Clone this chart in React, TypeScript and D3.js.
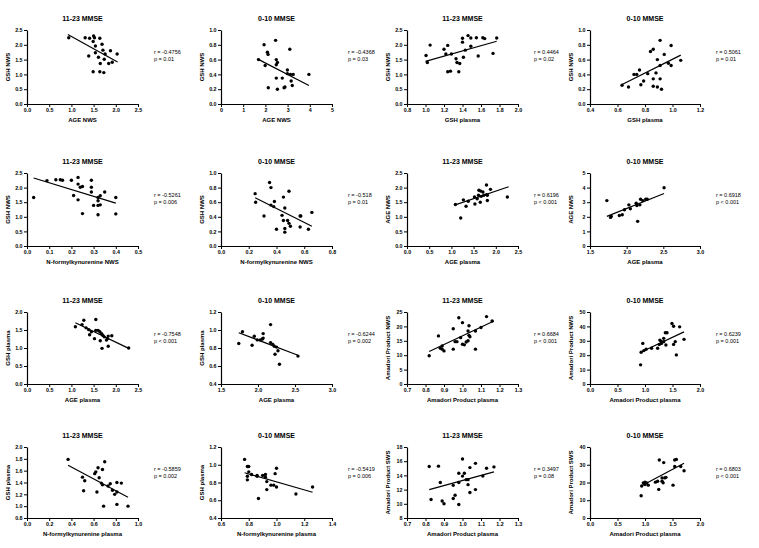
import React, { useEffect, useRef } from "react";
import * as d3 from "d3";

type Pt = [number, number];

// ---------- data ----------
const ageNws_gshNws_mild: Pt[] = [
  [0.94, 2.24], [1.31, 2.24], [1.41, 2.22], [1.5, 2.3], [1.52, 2.24], [1.49, 2.11], [1.64, 2.22],
  [1.54, 1.96], [1.69, 2.02], [1.71, 1.82], [1.54, 1.73], [1.39, 1.62], [1.61, 1.58], [1.76, 1.69],
  [1.88, 1.8], [2.03, 1.69], [1.74, 1.51], [1.65, 1.37], [1.84, 1.37], [1.92, 1.41], [1.49, 1.09],
  [1.64, 1.09], [1.73, 1.06],
];
const ageNws_gshNws_severe: Pt[] = [
  [1.69, 0.6], [1.94, 0.8], [1.99, 0.52], [2.09, 0.7], [2.12, 0.67], [2.46, 0.86], [2.49, 0.6],
  [2.54, 0.56], [2.49, 0.53], [3.1, 0.74], [2.99, 0.46], [2.99, 0.41], [3.13, 0.4], [3.25, 0.4],
  [3.96, 0.4], [2.49, 0.35], [2.76, 0.35], [3.16, 0.31], [3.21, 0.25], [2.13, 0.22], [2.54, 0.2],
  [2.88, 0.23], [2.84, 0.22],
];
const gshPl_gshNws_mild: Pt[] = [
  [1.006, 1.64], [1.02, 1.4], [1.05, 1.99], [1.2, 1.85], [1.22, 1.69], [1.24, 1.98], [1.28, 1.69],
  [1.24, 1.09], [1.27, 1.11], [1.33, 1.53], [1.34, 1.4], [1.37, 1.37], [1.36, 1.09], [1.4, 2.22],
  [1.4, 2.09], [1.41, 1.58], [1.43, 1.82], [1.46, 2.31], [1.49, 2.23], [1.49, 1.95], [1.55, 2.24],
  [1.57, 1.62], [1.62, 2.24], [1.64, 2.21], [1.73, 1.71], [1.77, 2.23],
];
const gshPl_gshNws_severe: Pt[] = [
  [0.633, 0.254], [0.68, 0.23], [0.72, 0.4], [0.74, 0.4], [0.76, 0.46], [0.77, 0.26], [0.79, 0.31],
  [0.82, 0.41], [0.84, 0.71], [0.86, 0.74], [0.86, 0.34], [0.86, 0.24], [0.88, 0.42], [0.89, 0.6],
  [0.89, 0.23], [0.91, 0.52], [0.91, 0.34], [0.91, 0.86], [0.92, 0.2], [0.94, 0.67], [0.97, 0.55],
  [0.99, 0.79], [0.99, 0.52], [1.06, 0.59],
];
const nfkNws_gshNws_mild: Pt[] = [
  [0.03, 1.66], [0.09, 2.24], [0.13, 2.27], [0.15, 2.27], [0.16, 2.25], [0.2, 2.25], [0.23, 2.35],
  [0.23, 2.12], [0.24, 2.01], [0.25, 2.04], [0.21, 1.73], [0.23, 1.58], [0.29, 2.25], [0.29, 2.01],
  [0.29, 1.85], [0.25, 1.11], [0.3, 1.39], [0.32, 1.66], [0.33, 1.72], [0.35, 1.85], [0.32, 1.55],
  [0.32, 1.39], [0.33, 1.41], [0.32, 1.07], [0.4, 1.66], [0.4, 1.1],
];
const nfkNws_gshNws_severe: Pt[] = [
  [0.246, 0.717], [0.25, 0.6], [0.31, 0.41], [0.35, 0.87], [0.36, 0.8], [0.36, 0.56], [0.38, 0.54],
  [0.385, 0.61], [0.4, 0.23], [0.44, 0.42], [0.45, 0.67], [0.45, 0.35], [0.46, 0.52], [0.46, 0.24],
  [0.46, 0.19], [0.48, 0.35], [0.49, 0.75], [0.49, 0.31], [0.5, 0.27], [0.57, 0.41], [0.575, 0.41],
  [0.57, 0.26], [0.63, 0.23], [0.655, 0.46],
];
const agePl_ageNws_mild: Pt[] = [
  [1.09, 1.42], [1.21, 0.96], [1.27, 1.58], [1.33, 1.36], [1.38, 1.53], [1.52, 1.68], [1.53, 1.44],
  [1.58, 1.62], [1.61, 1.74], [1.62, 1.91], [1.66, 1.88], [1.67, 1.7], [1.71, 1.85], [1.65, 1.5],
  [1.73, 1.74], [1.79, 1.76], [1.81, 1.74], [1.79, 2.09], [1.81, 1.56], [1.88, 1.94], [2.26, 1.68],
];
const agePl_ageNws_severe: Pt[] = [
  [1.73, 3.11], [1.78, 1.96], [1.79, 2.03], [1.9, 2.09], [1.94, 2.14], [1.97, 2.48], [2.03, 2.82],
  [2.05, 2.55], [2.13, 2.93], [2.14, 2.77], [2.15, 1.69], [2.18, 2.82], [2.19, 3.2], [2.22, 3.11],
  [2.26, 3.2], [2.28, 3.2], [2.51, 3.99],
];
const agePl_gshPl_mild: Pt[] = [
  [1.09, 1.59], [1.24, 1.65], [1.28, 1.77], [1.33, 1.56], [1.39, 1.51], [1.41, 1.37], [1.45, 1.45],
  [1.55, 1.49], [1.55, 1.79], [1.52, 1.26], [1.6, 1.49], [1.64, 1.45], [1.68, 1.4], [1.65, 1.2],
  [1.69, 0.99], [1.71, 1.35], [1.74, 1.31], [1.81, 1.26], [1.83, 1.33], [1.79, 1.22], [1.83, 1.05],
  [1.91, 1.34], [2.29, 1.0],
];
const agePl_gshPl_severe: Pt[] = [
  [1.74, 0.85], [1.79, 0.98], [1.92, 0.83], [1.95, 0.93], [1.99, 0.89], [2.03, 0.89], [2.06, 0.9],
  [2.07, 0.96], [2.07, 0.91], [2.17, 1.06], [2.17, 0.86], [2.2, 0.84], [2.22, 0.82], [2.23, 0.73],
  [2.25, 0.81], [2.27, 0.77], [2.29, 0.62], [2.54, 0.71],
];
const amPl_amNws_mild: Pt[] = [
  [0.82, 9.8], [0.87, 16.7], [0.88, 12.4], [0.89, 13.2], [0.9, 11.5], [0.89, 12.1], [0.95, 19.2],
  [0.95, 12.1], [0.96, 14.7], [0.97, 14.7], [0.98, 23.0], [0.99, 16.1], [1.0, 21.3], [1.0, 13.8],
  [1.01, 13.6], [1.02, 14.6], [1.03, 15.0], [1.035, 20.2], [1.03, 18.4], [1.035, 16.9], [1.04, 16.4],
  [1.07, 18.4], [1.07, 12.1], [1.1, 19.6], [1.13, 23.4], [1.16, 21.9],
];
const amPl_amNws_severe: Pt[] = [
  [0.92, 13.3], [0.93, 22.0], [0.96, 28.2], [0.98, 23.2], [1.02, 24.1], [1.12, 24.8], [1.23, 24.8],
  [1.26, 27.5], [1.27, 30.5], [1.3, 28.2], [1.34, 31.7], [1.37, 35.6], [1.4, 35.6], [1.34, 29.4],
  [1.38, 27.1], [1.49, 42.0], [1.52, 40.1], [1.52, 27.5], [1.55, 29.4], [1.57, 20.2], [1.63, 39.7],
  [1.71, 31.0], [1.29, 29.8],
];
const nfkPl_gshPl_mild: Pt[] = [
  [0.37, 1.79], [0.5, 1.49], [0.52, 1.43], [0.51, 1.26], [0.61, 1.55], [0.62, 1.58], [0.64, 1.65],
  [0.63, 1.24], [0.65, 1.48], [0.68, 1.62], [0.7, 1.75], [0.67, 1.39], [0.68, 1.36], [0.69, 1.0],
  [0.73, 1.34], [0.75, 1.38], [0.77, 1.27], [0.79, 1.2], [0.81, 1.24], [0.81, 1.4], [0.81, 1.03],
  [0.85, 1.39], [0.91, 1.0],
];
const nfkPl_gshPl_severe: Pt[] = [
  [0.77, 1.06], [0.79, 0.98], [0.8, 0.98], [0.79, 0.87], [0.79, 0.83], [0.8, 0.92], [0.82, 0.89],
  [0.86, 0.88], [0.87, 0.62], [0.9, 0.88], [0.92, 0.86], [0.93, 0.81], [0.93, 0.72], [0.92, 0.89],
  [0.96, 0.77], [0.98, 0.77], [0.99, 0.9], [1.0, 0.96], [1.0, 0.75], [1.14, 0.67], [1.26, 0.75],
  [0.86, 0.87],
];
const amPl_amSws_mild: Pt[] = [
  [0.82, 15.25], [0.83, 10.6], [0.87, 15.3], [0.88, 13.0], [0.89, 10.4], [0.9, 10.0], [0.95, 12.6],
  [0.96, 11.2], [0.95, 10.75], [0.98, 14.3], [0.98, 13.0], [0.98, 9.9], [1.0, 13.9], [1.0, 16.3],
  [1.01, 14.3], [1.02, 13.4], [1.03, 13.4], [1.03, 12.7], [1.04, 11.6], [1.04, 15.1], [1.07, 15.7],
  [1.07, 12.0], [1.11, 13.9], [1.13, 15.0], [1.17, 15.2],
];
const amPl_amSws_severe: Pt[] = [
  [0.93, 12.5], [0.94, 18.0], [0.97, 19.8], [1.0, 20.2], [1.03, 19.8], [1.06, 18.5], [1.0, 18.9],
  [1.19, 20.2], [1.23, 20.7], [1.26, 32.7], [1.25, 16.1], [1.31, 20.7], [1.31, 22.6], [1.34, 31.2],
  [1.33, 19.8], [1.36, 22.6], [1.38, 22.9], [1.51, 18.5], [1.54, 29.0], [1.54, 32.7], [1.57, 33.0],
  [1.65, 29.0], [1.71, 26.6],
];

// regression line end points [x1, y1, x2, y2] in data units
const fitLines: number[][] = [
  [0.92, 2.35, 2.04, 1.42], [1.64, 0.61, 3.96, 0.25], [1.0, 1.44, 1.77, 2.12], [0.63, 0.26, 1.06, 0.66],
  [0.03, 2.33, 0.4, 1.47], [0.246, 0.66, 0.655, 0.27], [1.07, 1.4, 2.29, 2.03], [1.73, 2.03, 2.51, 3.6],
  [1.09, 1.7, 2.29, 0.99], [1.74, 0.97, 2.54, 0.72], [0.82, 11.3, 1.17, 21.9], [0.92, 22.0, 1.71, 36.2],
  [0.37, 1.69, 0.91, 1.15], [0.77, 0.91, 1.26, 0.69], [0.82, 12.0, 1.17, 14.5], [0.93, 18.0, 1.71, 30.8],
];

const panelTitles = ["11-23 MMSE", "0-10 MMSE"];
const xTitles = [
  "AGE NWS", "AGE NWS", "GSH plasma", "GSH plasma",
  "N-formylkynurenine NWS", "N-formylkynurenine NWS", "AGE plasma", "AGE plasma",
  "AGE plasma", "AGE plasma", "Amadori Product plasma", "Amadori Product plasma",
  "N-formylkynurenine plasma", "N-formylkynurenine plasma", "Amadori Product plasma", "Amadori Product plasma",
];
const yTitles = [
  "GSH NWS", "GSH NWS", "GSH NWS", "GSH NWS",
  "GSH NWS", "GSH NWS", "AGE NWS", "AGE NWS",
  "GSH plasma", "GSH plasma", "Amadori Product NWS", "Amadori Product NWS",
  "GSH plasma", "GSH plasma", "Amadori Product SWS", "Amadori Product SWS",
];
const rValues = [
  "-0.4756", "-0.4368", "0.4464", "0.5061", "-0.5261", "-0.518", "0.6196", "0.6918",
  "-0.7548", "-0.6244", "0.6684", "0.6239", "-0.5859", "-0.5419", "0.3497", "0.6803",
];
const pValues = [
  "= 0.01", "= 0.03", "= 0.02", "= 0.01", "= 0.006", "= 0.01", "< 0.001", "< 0.001",
  "< 0.001", "= 0.002", "< 0.001", "= 0.001", "= 0.002", "= 0.006", "= 0.08", "< 0.001",
];
// x ticks: [min, max, step]
const xTickSpecs: number[][] = [
  [0, 2.5, 0.5], [0, 5, 1], [0.8, 2.0, 0.2], [0.4, 1.2, 0.2],
  [0, 0.5, 0.1], [0, 0.8, 0.2], [0, 2.5, 0.5], [1.5, 3.0, 0.5],
  [0, 2.5, 0.5], [1.5, 3.0, 0.5], [0.7, 1.3, 0.1], [0, 2.0, 0.5],
  [0, 1.0, 0.2], [0.6, 1.4, 0.2], [0.7, 1.3, 0.1], [0, 2.0, 0.5],
];
const yTickSpecs: number[][] = [
  [0, 2.5, 0.5], [0, 1.0, 0.2], [0, 2.5, 0.5], [0, 1.0, 0.2],
  [0, 2.5, 0.5], [0, 1.0, 0.2], [0, 2.5, 0.5], [0, 5, 1],
  [0, 2.0, 0.5], [0.4, 1.2, 0.2], [0, 25, 5], [0, 50, 10],
  [0.8, 2.0, 0.2], [0.4, 1.2, 0.2], [8, 18, 2], [0, 40, 10],
];
const allData: Pt[][] = [
  ageNws_gshNws_mild, ageNws_gshNws_severe, gshPl_gshNws_mild, gshPl_gshNws_severe,
  nfkNws_gshNws_mild, nfkNws_gshNws_severe, agePl_ageNws_mild, agePl_ageNws_severe,
  agePl_gshPl_mild, agePl_gshPl_severe, amPl_amNws_mild, amPl_amNws_severe,
  nfkPl_gshPl_mild, nfkPl_gshPl_severe, amPl_amSws_mild, amPl_amSws_severe,
];

// ---------- layout ----------
const W = 759;
const H = 548;
const colLeft = [27, 221, 407, 590];
const colWidth = [111, 111, 111, 110];
const rowTop = [30, 173, 312, 447];
const rowHeight = [74, 73, 72, 71];
const FONT = "'Liberation Sans', Arial, Helvetica, sans-serif";

function ticksOf(spec: number[]): number[] {
  const [a, b, s] = spec;
  const n = Math.round((b - a) / s);
  return d3.range(n + 1).map((i) => +(a + i * s).toFixed(6));
}
function fmtOf(spec: number[]) {
  const s = spec[2];
  return s >= 1 ? d3.format("d") : d3.format(".1f");
}

export default function App() {
  const ref = useRef<SVGSVGElement | null>(null);

  useEffect(() => {
    const svg = d3.select(ref.current);
    svg.selectAll("*").remove();

    allData.forEach((data, i) => {
      const row = Math.floor(i / 4);
      const col = i % 4;
      const L = colLeft[col];
      const T = rowTop[row];
      const PW = colWidth[col];
      const PH = rowHeight[row];
      const xs = xTickSpecs[i];
      const ys = yTickSpecs[i];
      const x = d3.scaleLinear().domain([xs[0], xs[1]]).range([L, L + PW]);
      const y = d3.scaleLinear().domain([ys[0], ys[1]]).range([T + PH, T]);
      const g = svg.append("g");

      const xAxis = g
        .append("g")
        .attr("transform", `translate(0,${T + PH})`)
        .call(
          d3.axisBottom(x).tickValues(ticksOf(xs)).tickFormat(fmtOf(xs) as any).tickSize(3).tickSizeOuter(0).tickPadding(1.5)
        );
      const yAxis = g
        .append("g")
        .attr("transform", `translate(${L},0)`)
        .call(
          d3.axisLeft(y).tickValues(ticksOf(ys)).tickFormat(fmtOf(ys) as any).tickSize(3).tickSizeOuter(0).tickPadding(1.5)
        );
      [xAxis, yAxis].forEach((a) => {
        a.attr("font-family", FONT).attr("font-size", 5.3).attr("font-weight", "bold");
        a.selectAll("path").attr("stroke", "#000").attr("stroke-width", 1.2);
        a.selectAll("line").attr("stroke", "#000").attr("stroke-width", 1);
        a.selectAll("text").attr("fill", "#000");
      });

      // regression line
      const f = fitLines[i];
      g.append("line")
        .attr("x1", x(f[0]))
        .attr("y1", y(f[1]))
        .attr("x2", x(f[2]))
        .attr("y2", y(f[3]))
        .attr("stroke", "#000")
        .attr("stroke-width", 1.2);

      // points
      g.selectAll("circle.pt")
        .data(data)
        .join("circle")
        .attr("class", "pt")
        .attr("cx", (d) => x(d[0]))
        .attr("cy", (d) => y(d[1]))
        .attr("r", 1.7)
        .attr("fill", "#000");

      // title
      g.append("text")
        .attr("x", L + PW / 2)
        .attr("y", T - 9)
        .attr("text-anchor", "middle")
        .attr("font-family", FONT)
        .attr("font-size", 7)
        .attr("font-weight", "bold")
        .text(panelTitles[col % 2]);

      // x title
      g.append("text")
        .attr("x", L + PW / 2)
        .attr("y", T + PH + 17.5)
        .attr("text-anchor", "middle")
        .attr("font-family", FONT)
        .attr("font-size", 6)
        .attr("font-weight", "bold")
        .text(xTitles[i]);

      // y title
      g.append("text")
        .attr("transform", `translate(${L - 17},${T + PH / 2}) rotate(-90)`)
        .attr("text-anchor", "middle")
        .attr("font-family", FONT)
        .attr("font-size", 6)
        .attr("font-weight", "bold")
        .text(yTitles[i]);

      // stats
      const sx = L + PW + 16;
      g.append("text")
        .attr("x", sx)
        .attr("y", T + 24)
        .attr("font-family", FONT)
        .attr("font-size", 5.5)
        .text(`r = ${rValues[i]}`);
      g.append("text")
        .attr("x", sx)
        .attr("y", T + 31)
        .attr("font-family", FONT)
        .attr("font-size", 5.5)
        .text(`p ${pValues[i]}`);
    });
  }, []);

  return (
    <svg
      ref={ref}
      width={W}
      height={H}
      viewBox={`0 0 ${W} ${H}`}
      style={{ position: "absolute", left: 0, top: 0, background: "#fff" }}
    />
  );
}
